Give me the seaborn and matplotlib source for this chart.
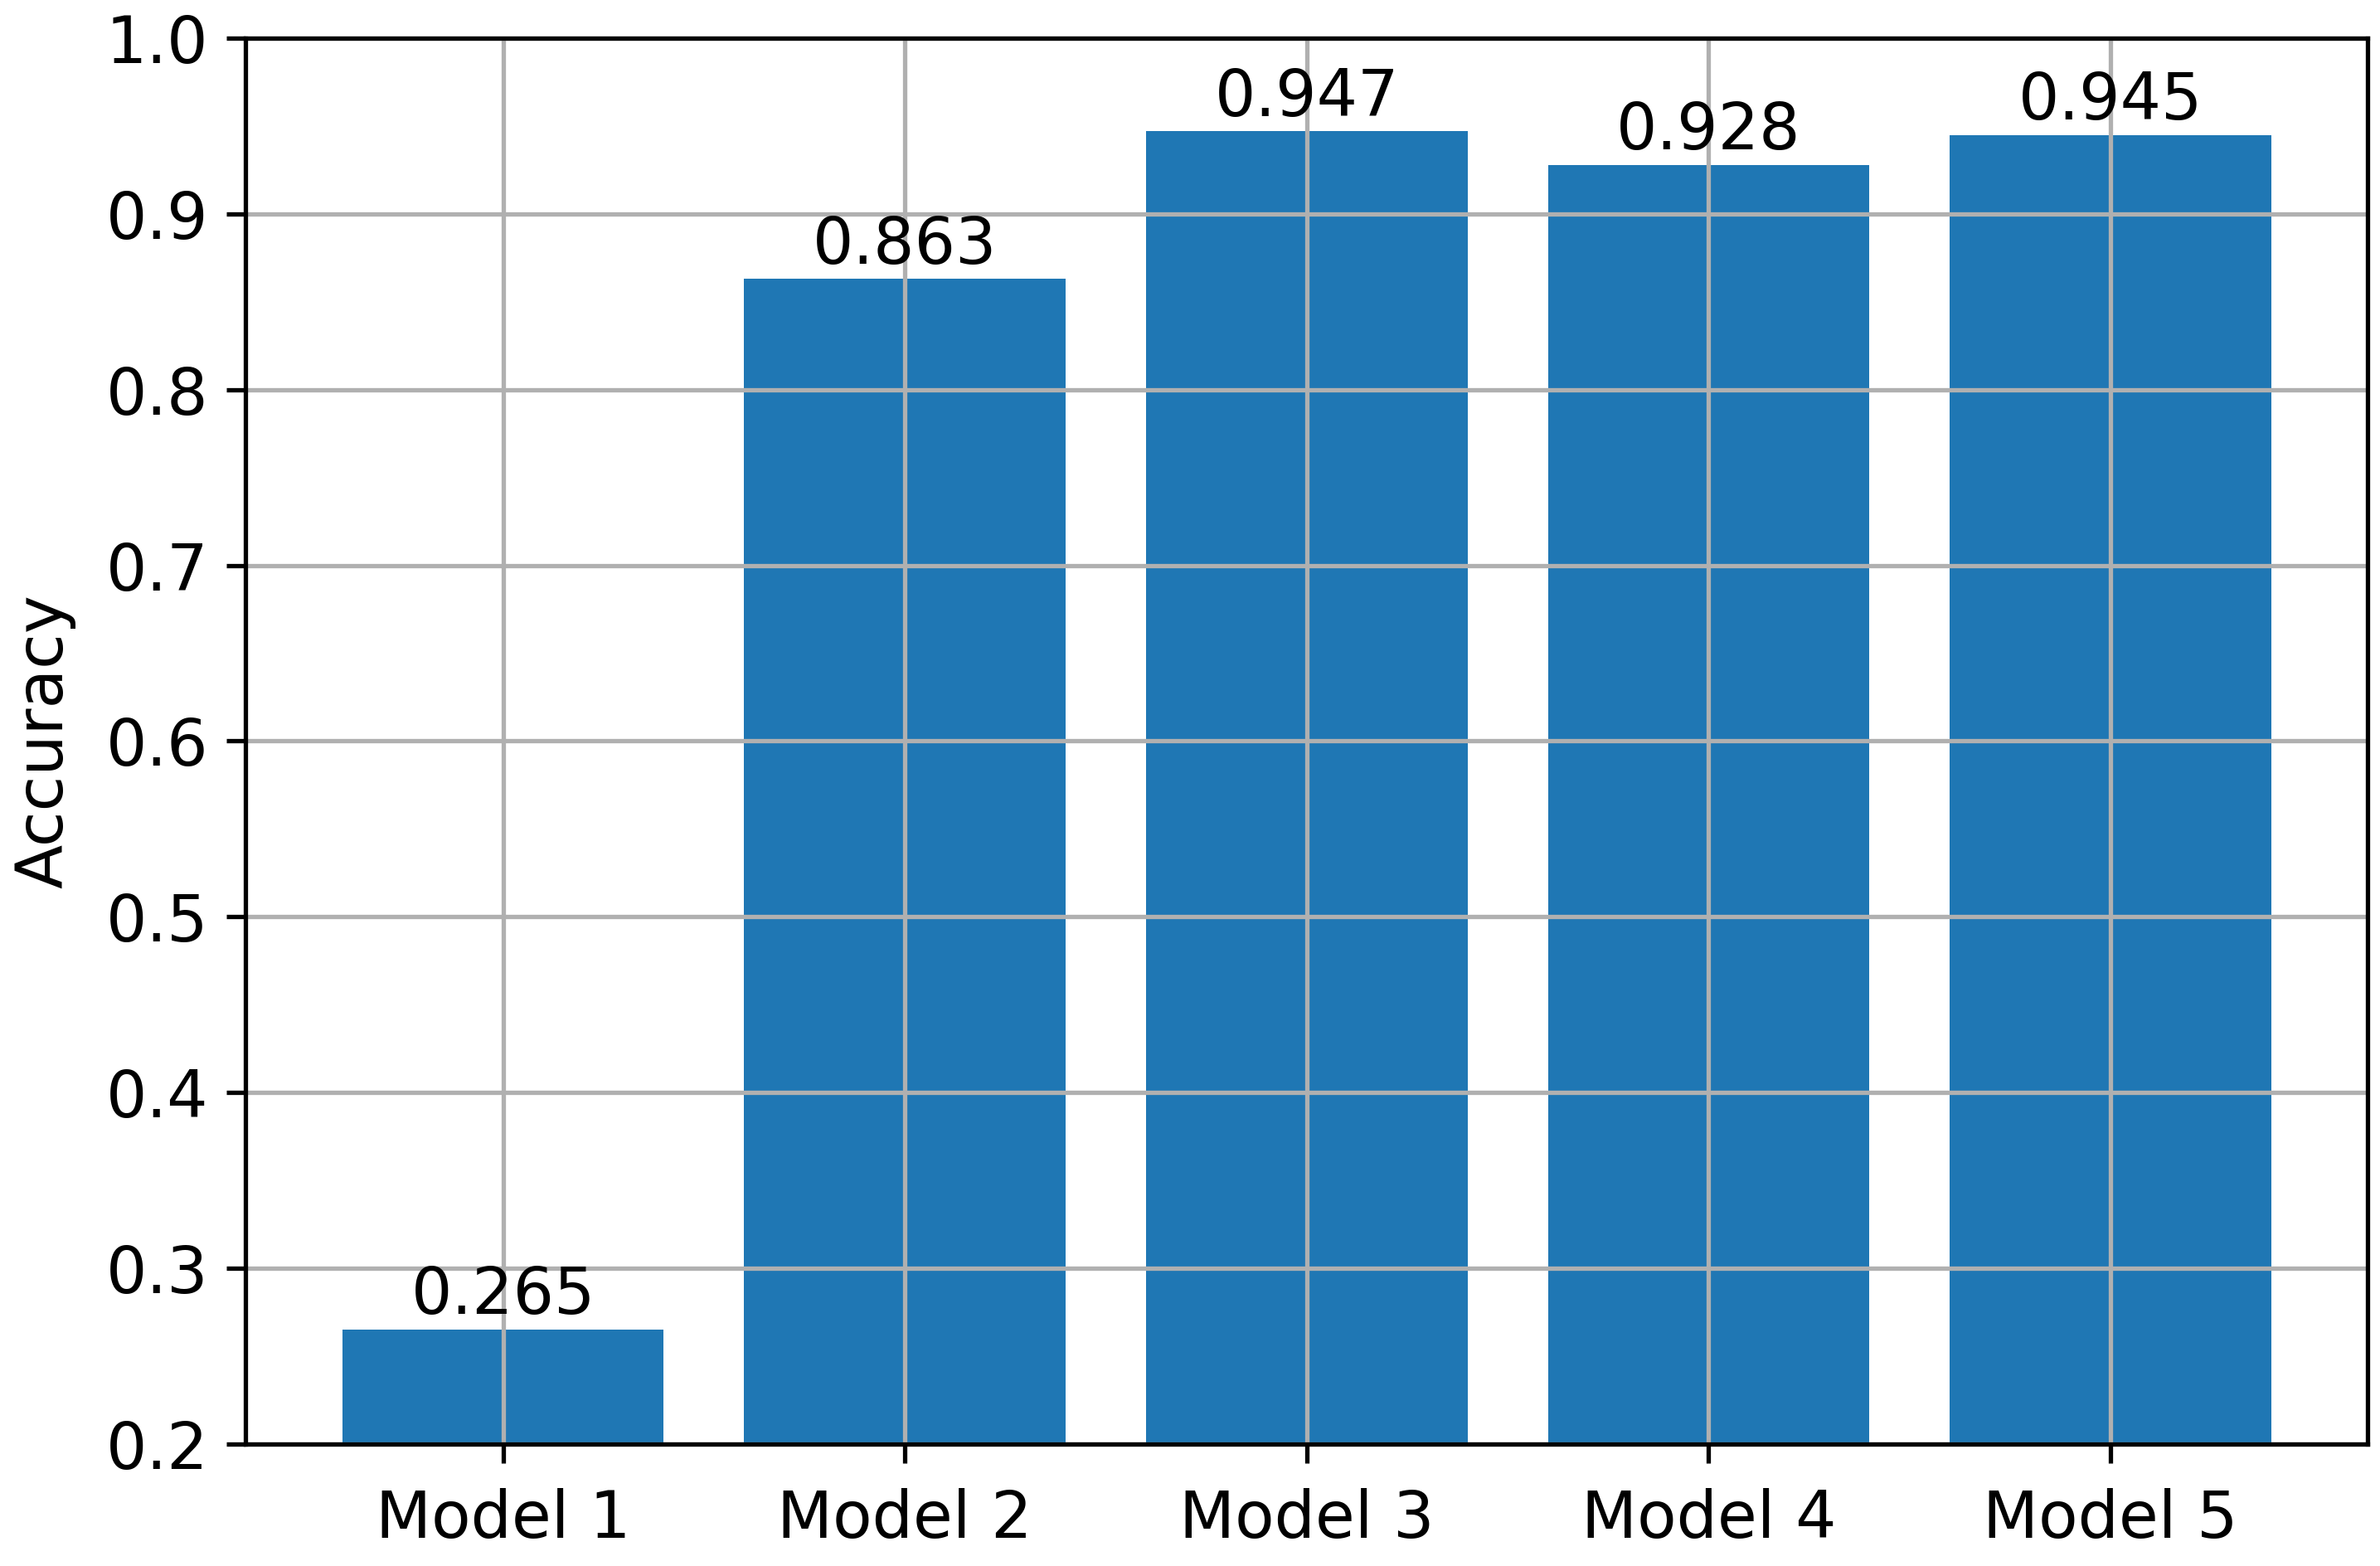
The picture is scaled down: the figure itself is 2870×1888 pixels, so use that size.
import pandas as pd
import matplotlib.pyplot as plt
import seaborn as sns

# Data
models = ["Model 1", "Model 2", "Model 3", "Model 4", "Model 5"]
accuracy = [0.265, 0.863, 0.947, 0.928, 0.945]

df = pd.DataFrame({"model": models, "accuracy": accuracy})

plt.rcParams["font.family"] = ["DejaVu Sans"]
plt.rcParams["font.size"] = 14
plt.rcParams["axes.linewidth"] = 0.95
plt.rcParams["xtick.major.width"] = 0.95
plt.rcParams["ytick.major.width"] = 0.95
plt.rcParams["xtick.major.size"] = 4.1
plt.rcParams["ytick.major.size"] = 4.1
plt.rcParams["xtick.major.pad"] = 5.5
plt.rcParams["ytick.major.pad"] = 4

fig, ax = plt.subplots(figsize=(7.175, 4.72), dpi=400)
fig.subplots_adjust(left=0.1033, right=0.9948, bottom=0.078, top=0.9756)

sns.barplot(x="model", y="accuracy", data=df, color="#1f77b4", saturation=1,
            width=0.8, linewidth=0, ax=ax)
ax.bar_label(ax.containers[0], fmt="%.3f", fontsize=14, padding=0.5)

ax.set_xlim(-0.64, 4.64)
ax.set_ylim(0.2, 1.0)
ax.set_xlabel("")
ax.set_ylabel("Accuracy", fontsize=14, labelpad=6.5)
ax.grid(True, color="#b0b0b0", linewidth=0.95)
ax.xaxis.grid(True)

plt.savefig("out.png", dpi=400)
plt.close()
